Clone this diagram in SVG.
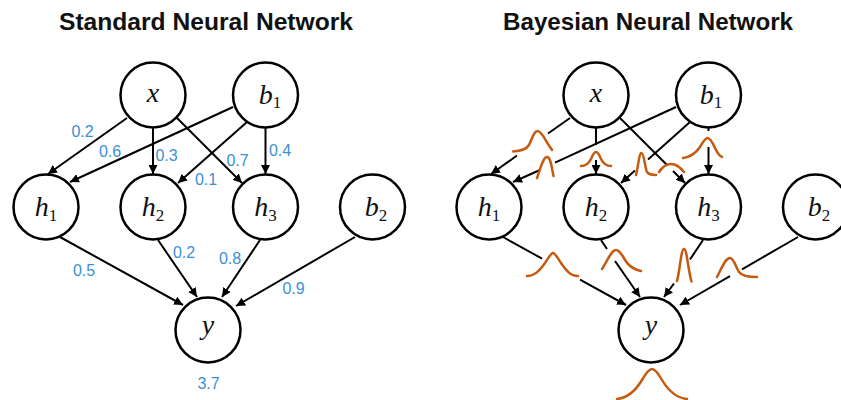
<svg xmlns="http://www.w3.org/2000/svg" width="841" height="400" viewBox="0 0 841 400">
<style>
.title{font-family:"Liberation Sans",Arial,sans-serif;font-weight:bold;font-size:24px;fill:#111;text-anchor:middle}
.node circle{fill:#fff;stroke:#000;stroke-width:2.5}
.v{font-family:"Liberation Serif","Times New Roman",serif;font-style:italic;font-size:28px;fill:#111;text-anchor:middle}
.s{font-style:normal;font-size:17px}
.w{font-family:"Liberation Sans",Arial,sans-serif;font-size:16px;fill:#3b8fd6;text-anchor:middle}
.edge line{stroke:#000;stroke-width:2}
.arr{marker-end:url(#ah)}
.g path{fill:none;stroke:#c55a11;stroke-width:2.5;stroke-linecap:round;stroke-linejoin:round}
</style>
<defs>
<marker id="ah" markerUnits="userSpaceOnUse" markerWidth="10" markerHeight="9" refX="9" refY="4.5" orient="auto">
<path d="M0,0 L9,4.5 L0,9 z" fill="#000"/>
</marker>
</defs>
<rect width="841" height="400" fill="#fff"/>
<text class="title" x="206" y="30" textLength="294" lengthAdjust="spacingAndGlyphs">Standard Neural Network</text>
<text class="title" x="648" y="30" textLength="290" lengthAdjust="spacingAndGlyphs">Bayesian Neural Network</text>

<g id="connectors" class="edge">
<!-- standard -->
<line class="arr" x1="127" y1="118" x2="48" y2="174"/>
<line class="arr" x1="233" y1="107" x2="70" y2="182"/>
<line class="arr" x1="153" y1="128" x2="153" y2="174"/>
<line class="arr" x1="247" y1="122" x2="178" y2="183"/>
<line class="arr" x1="177" y1="118" x2="242" y2="183"/>
<line class="arr" x1="265.5" y1="128" x2="265.5" y2="174"/>
<line class="arr" x1="60" y1="237" x2="183" y2="305"/>
<line class="arr" x1="158" y1="240" x2="197" y2="297"/>
<line class="arr" x1="260" y1="240" x2="222" y2="297"/>
<line class="arr" x1="355" y1="237" x2="236" y2="306"/>
<!-- bayesian -->
<line x1="570" y1="118" x2="548" y2="133.5"/>
<line class="arr" x1="517" y1="155.5" x2="491" y2="174"/>
<line x1="676" y1="107" x2="555" y2="162.7"/>
<line class="arr" x1="540" y1="170" x2="513" y2="182"/>
<line x1="596" y1="128" x2="596" y2="145"/>
<line class="arr" x1="596" y1="160" x2="596" y2="174"/>
<line x1="690" y1="122" x2="648" y2="159.5"/>
<line class="arr" x1="635" y1="170.6" x2="621" y2="183"/>
<line x1="620" y1="118" x2="667" y2="165"/>
<line class="arr" x1="673" y1="171" x2="685" y2="183"/>
<line x1="708.5" y1="128" x2="708.5" y2="131"/>
<line class="arr" x1="708.5" y1="147" x2="708.5" y2="174"/>
<line x1="503" y1="237" x2="542" y2="258.6"/>
<line class="arr" x1="580" y1="279.6" x2="626" y2="305"/>
<line x1="601" y1="240" x2="607" y2="249"/>
<line class="arr" x1="615" y1="261" x2="640" y2="297"/>
<line x1="703" y1="240" x2="690" y2="259.5"/>
<line class="arr" x1="674" y1="283.5" x2="664" y2="297"/>
<line x1="798" y1="237" x2="742" y2="269.3"/>
<line class="arr" x1="730" y1="276.2" x2="680" y2="305"/>
</g>

<g id="std-nodes">
<g id="s-x" class="node"><circle cx="153" cy="95" r="32.5"/><text class="v" x="153" y="102">x</text></g>
<g id="s-b1" class="node"><circle cx="265.5" cy="95" r="32.5"/><text class="v" x="270" y="104">b<tspan class="s" dy="4">1</tspan></text></g>
<g id="s-h1" class="node"><circle cx="46" cy="207" r="32.5"/><text class="v" x="46" y="216">h<tspan class="s" dy="5">1</tspan></text></g>
<g id="s-h2" class="node"><circle cx="153" cy="207" r="32.5"/><text class="v" x="153" y="216">h<tspan class="s" dy="5">2</tspan></text></g>
<g id="s-h3" class="node"><circle cx="265.5" cy="207" r="32.5"/><text class="v" x="265.5" y="216">h<tspan class="s" dy="5">3</tspan></text></g>
<g id="s-b2" class="node"><circle cx="372.5" cy="207" r="32.5"/><text class="v" x="376" y="216">b<tspan class="s" dy="5">2</tspan></text></g>
<g id="s-y" class="node"><circle cx="208" cy="330" r="32.5"/><text class="v" x="208" y="334">y</text></g>
</g>

<g id="bnn-nodes">
<g id="b-x" class="node"><circle cx="596" cy="95" r="32.5"/><text class="v" x="596" y="102">x</text></g>
<g id="b-b1" class="node"><circle cx="708.5" cy="95" r="32.5"/><text class="v" x="711" y="104">b<tspan class="s" dy="4">1</tspan></text></g>
<g id="b-h1" class="node"><circle cx="489" cy="207" r="32.5"/><text class="v" x="489" y="216">h<tspan class="s" dy="5">1</tspan></text></g>
<g id="b-h2" class="node"><circle cx="596" cy="207" r="32.5"/><text class="v" x="596" y="216">h<tspan class="s" dy="5">2</tspan></text></g>
<g id="b-h3" class="node"><circle cx="708.5" cy="207" r="32.5"/><text class="v" x="708.5" y="216">h<tspan class="s" dy="5">3</tspan></text></g>
<g id="b-b2" class="node"><circle cx="815.5" cy="207" r="32.5"/><text class="v" x="819" y="216">b<tspan class="s" dy="5">2</tspan></text></g>
<g id="b-y" class="node"><circle cx="651" cy="330" r="32.5"/><text class="v" x="651" y="334">y</text></g>
</g>

<g id="weights">
<text class="w" x="82.5" y="137">0.2</text>
<text class="w" x="110" y="157">0.6</text>
<text class="w" x="166.5" y="161">0.3</text>
<text class="w" x="237.5" y="166">0.7</text>
<text class="w" x="206" y="185">0.1</text>
<text class="w" x="280" y="156">0.4</text>
<text class="w" x="84" y="276">0.5</text>
<text class="w" x="184" y="258">0.2</text>
<text class="w" x="230" y="264">0.8</text>
<text class="w" x="293.5" y="294">0.9</text>
<text class="w" x="208.5" y="389">3.7</text>
</g>

<g id="distributions" class="g">
<path d="M513,151.5 C520,151 526,150 529,145 C532,139 534,131 537.5,131 C541,131 545,139 548,144 L552,150"/>
<path d="M537,178 C540,170 543,157 547,157 C551,157 552,170 553.5,176"/>
<path d="M581,166 C586,166 589,163 591,159 C593,154 594.5,152 596,152 C597.5,152 599,154 601,159 C603,163 606,166 611,166"/>
<path d="M636,175 C638,168 639,153 641.5,153 C644,153 645,168 647,172 C649,175 652,175 656,175"/>
<path d="M659,172 C663,166 667,164 671,164 C676,164 680,167 684,172"/>
<path d="M683,158 C690,157 696,153 700,147 C703,142 705,138 707.5,138 C711,138 714,146 716,150 C718,154 720,156 722,157"/>
<path d="M527,276 C535,276 540,270 545,263 C549,257 551,253 553,253 C555,253 557,257 561,263 C566,270 570,276 578,276"/>
<path d="M602,269 C607,262 611,250 616,250 C621,250 624,260 628,264 C632,268 636,270 641,271"/>
<path d="M677,281 C680,270 681,249 684,249 C687,249 688,270 691.5,281.5"/>
<path d="M717,277 C721,270 725,258 730,258 C734,258 736,268 739,272 C742,276 748,277 757,277"/>
<path d="M617,399 C628,398 636,390 642,380 C646,373 649,369 652,369 C655,369 658,373 662,380 C668,390 676,398 687,399"/>
</g>
</svg>
